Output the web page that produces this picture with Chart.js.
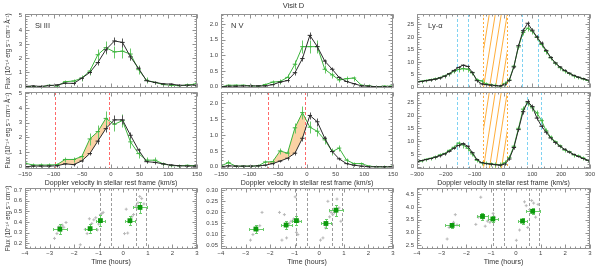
<!DOCTYPE html>
<html>
<head>
<meta charset="utf-8">
<script src="https://cdn.jsdelivr.net/npm/chart.js@4.4.0/dist/chart.umd.min.js"></script>
<style>
html,body{margin:0;padding:0;background:#ffffff;}
#fig{position:relative;width:598px;height:267px;overflow:hidden;background:#fff;}
#fig canvas{position:absolute;}
</style>
</head>
<body>
<div id="fig"></div>
<script>
// ---------- data ----------
const siVel = [-150,-136,-122,-108,-94,-80,-65,-51,-37,-23,-9,6,20,34,48,62,77,91,105,119,133,147];
const siBlackA    = [0.02,0.05,0.02,0.08,0.12,0.25,0.23,0.6,1.0,1.7,2.6,3.22,3.12,2.1,1.3,0.42,0.3,0.2,0.18,0.1,0.1,0.12];
const siBlackAErr = [0.08,0.08,0.08,0.08,0.08,0.08,0.08,0.1,0.12,0.2,0.25,0.3,0.3,0.22,0.15,0.1,0.08,0.08,0.08,0.08,0.08,0.08];
const siGreenA    = [0.0,0.02,-0.03,0.1,0.05,0.35,0.4,0.6,1.1,2.25,2.75,2.45,2.5,2.3,1.2,0.45,0.3,0.15,0.1,0.07,0.12,0.18];
const siGreenAErr = [0.12,0.12,0.12,0.12,0.12,0.15,0.15,0.2,0.25,0.4,0.45,0.45,0.45,0.4,0.3,0.2,0.12,0.12,0.12,0.12,0.12,0.12];
const siBlackB    = [0.0,0.05,0.05,0.05,0.07,0.2,0.15,0.4,0.9,1.75,2.6,3.2,3.2,2.15,1.15,0.35,0.3,0.2,0.12,0.07,0.05,0.05];
const siBlackBErr = [0.08,0.08,0.08,0.08,0.08,0.08,0.08,0.1,0.12,0.2,0.25,0.3,0.3,0.22,0.15,0.1,0.08,0.08,0.08,0.08,0.08,0.08];
const siGreenB    = [0.25,0.12,0.12,0.12,0.15,0.5,0.5,0.7,1.9,2.4,3.3,2.9,3.15,1.7,0.9,0.45,0.45,0.2,0.08,0.07,0.1,0.07];
const siGreenBErr = [0.15,0.12,0.12,0.12,0.12,0.15,0.15,0.2,0.4,0.45,0.5,0.45,0.45,0.4,0.3,0.2,0.2,0.12,0.12,0.12,0.12,0.12];

const nvVel = [-150,-137,-124,-111,-98,-85,-73,-60,-47,-34,-21,-8,5,18,31,44,56,69,82,95,108,121,134,147];
const nvBlackA    = [0.0,0.02,0.02,0.03,0.03,0.03,0.03,0.07,0.15,0.2,0.45,0.9,1.64,1.28,0.82,0.56,0.3,0.17,0.1,0.03,0.02,0.0,0.0,0.0];
const nvBlackAErr = [0.03,0.03,0.03,0.03,0.03,0.03,0.03,0.03,0.04,0.05,0.06,0.08,0.12,0.12,0.08,0.06,0.05,0.04,0.03,0.03,0.03,0.03,0.03,0.03];
const nvGreenA    = [0.0,0.05,0.05,0.05,0.03,0.02,0.07,0.15,0.17,0.3,0.72,1.28,1.28,1.28,0.56,0.38,0.22,0.26,0.28,0.05,0.03,0.0,0.02,0.02];
const nvGreenAErr = [0.05,0.05,0.05,0.05,0.05,0.05,0.06,0.07,0.08,0.1,0.14,0.2,0.2,0.2,0.12,0.1,0.08,0.08,0.08,0.05,0.05,0.05,0.05,0.05];
const nvBlackB    = [0.0,0.03,0.02,0.02,0.02,0.03,0.05,0.1,0.18,0.27,0.43,0.9,1.62,1.42,0.9,0.48,0.25,0.1,0.05,0.02,0.0,0.0,0.0,0.0];
const nvBlackBErr = [0.03,0.03,0.03,0.03,0.03,0.03,0.03,0.03,0.04,0.05,0.06,0.08,0.12,0.12,0.08,0.06,0.05,0.04,0.03,0.03,0.03,0.03,0.03,0.03];
const nvGreenB    = [0.03,0.13,0.02,0.02,0.02,0.03,0.15,0.16,0.5,0.43,1.23,1.71,1.25,1.12,0.85,0.48,0.59,0.21,0.1,0.1,0.02,0.0,0.0,0.0];
const nvGreenBErr = [0.05,0.07,0.05,0.05,0.05,0.05,0.06,0.07,0.1,0.1,0.15,0.2,0.18,0.15,0.12,0.1,0.1,0.08,0.06,0.05,0.05,0.05,0.05,0.05];

const lyVel = [-300,-284,-268,-252,-236,-220,-204,-188,-172,-156,-140,-124,-108,-92,-76,-60,-44,-28,-12,4,20,36,52,68,84,100,116,132,148,164,180,196,212,228,244,260,276,292];
const lyBlackA    = [1.9,2.2,2.5,2.8,3.1,3.6,4.3,5.3,6.6,7.8,8.7,8.2,5.8,2.5,1.2,0.9,0.7,0.5,0.4,0.9,2.6,8.0,16.5,22.5,25.5,22.7,20.0,17.5,14.6,11.8,9.6,8.0,6.6,5.5,4.6,3.9,3.3,2.8];
const lyBlackAErr = [0.3,0.3,0.3,0.3,0.3,0.35,0.35,0.4,0.45,0.5,0.6,0.6,0.5,0.35,0.3,0.3,0.3,0.3,0.3,0.3,0.35,0.5,0.7,0.9,1.0,0.9,0.8,0.7,0.6,0.5,0.45,0.4,0.4,0.35,0.35,0.3,0.3,0.3];
const lyGreenA    = [1.9,2.3,2.6,2.9,3.2,3.7,4.4,5.2,6.2,7.0,7.3,7.1,5.6,2.8,2.4,1.2,0.8,0.6,0.1,1.4,2.8,8.3,16.0,21.8,23.5,22.3,19.8,17.0,14.2,11.6,9.5,7.7,6.4,5.4,4.4,3.8,3.2,2.6];
const lyGreenAErr = [0.6,0.6,0.6,0.6,0.6,0.6,0.7,0.7,0.8,0.9,1.0,1.0,0.9,0.8,0.8,0.8,0.8,0.9,1.0,1.0,0.9,0.9,1.0,1.2,1.3,1.2,1.1,1.0,1.0,0.9,0.8,0.8,0.7,0.7,0.7,0.6,0.6,0.6];
const lyBlackB    = [2.0,2.4,2.8,3.2,3.7,4.3,5.0,6.0,7.2,8.3,9.0,8.0,5.5,2.8,1.6,1.2,1.0,0.8,0.6,1.0,3.0,7.5,14.5,21.5,25.5,23.5,19.0,15.8,13.5,11.2,9.5,8.0,6.8,5.7,4.8,4.0,3.2,2.5];
const lyBlackBErr = [0.3,0.3,0.3,0.3,0.3,0.35,0.35,0.4,0.45,0.5,0.6,0.6,0.5,0.35,0.3,0.3,0.3,0.3,0.3,0.3,0.35,0.5,0.7,0.9,1.0,0.9,0.8,0.7,0.6,0.5,0.45,0.4,0.4,0.35,0.35,0.3,0.3,0.3];
const lyGreenB    = [2.0,2.3,2.9,3.3,3.8,4.6,5.2,6.4,7.6,9.2,8.5,7.2,5.0,2.5,1.5,1.3,1.1,0.9,0.7,1.5,3.5,8.0,15.0,22.5,25.0,23.0,21.0,18.0,14.0,11.5,9.8,8.2,6.5,5.9,4.6,4.2,3.4,2.6];
const lyGreenBErr = [0.6,0.6,0.6,0.6,0.6,0.6,0.7,0.7,0.8,0.9,1.0,1.0,0.9,0.8,0.8,0.8,0.8,0.9,1.0,1.0,0.9,0.9,1.0,1.2,1.3,1.2,1.1,1.0,1.0,0.9,0.8,0.8,0.7,0.7,0.7,0.6,0.6,0.6];

const timeBin    = [-2.58,-1.35,-0.93,0.27,0.68];
const timeBinErr = [0.28,0.22,0.2,0.2,0.28];
const siTimeFlux = [0.333,0.337,0.413,0.412,0.537];
const siTimeErr  = [0.045,0.04,0.05,0.04,0.055];
const nvTimeFlux = [0.125,0.143,0.163,0.15,0.21];
const nvTimeErr  = [0.018,0.02,0.02,0.02,0.025];
const lyTimeFlux = [3.28,3.63,3.53,3.45,3.83];
const lyTimeErr  = [0.1,0.13,0.13,0.12,0.12];

const siSubT = [-2.8,-2.7,-2.62,-2.55,-2.48,-2.42,-2.33,-1.75,-1.55,-1.47,-1.38,-1.28,-1.2,-1.12,-1.05,-1.0,-0.93,-0.87,-0.82,0.05,0.12,0.18,0.27,0.35,0.42,0.52,0.6,0.67,0.75,0.84];
const siSubF = [0.245,0.29,0.355,0.31,0.37,0.35,0.395,0.185,0.33,0.29,0.43,0.385,0.42,0.44,0.325,0.38,0.47,0.48,0.49,0.29,0.52,0.295,0.41,0.45,0.47,0.55,0.58,0.64,0.62,0.57];
const nvSubT = [-2.8,-2.7,-2.6,-2.5,-2.42,-2.33,-1.62,-1.52,-1.42,-1.33,-1.22,-1.15,-1.05,-0.98,-0.93,-0.87,-0.82,0.05,0.15,0.25,0.35,0.42,0.48,0.55,0.62,0.72,0.8,0.88];
const nvSubF = [0.075,0.1,0.13,0.12,0.14,0.2,0.2,0.075,0.19,0.085,0.15,0.16,0.17,0.27,0.11,0.1,0.16,0.075,0.085,0.13,0.25,0.18,0.2,0.19,0.2,0.26,0.22,0.16];
const lySubT = [-2.78,-2.7,-2.6,-2.52,-2.45,-2.38,-1.62,-1.52,-1.42,-1.32,-1.24,-1.15,-1.05,-0.98,-0.92,-0.86,0.02,0.15,0.25,0.35,0.42,0.48,0.56,0.64,0.72,0.8,0.9];
const lySubF = [2.75,3.2,3.25,3.4,3.7,3.3,3.32,3.6,4.38,3.55,3.25,3.45,3.4,3.5,3.75,3.6,2.7,3.1,3.45,4.2,4.05,3.2,3.9,4.25,4.15,3.6,4.1];

// tick labels
const siVelTicks = [-150,-100,-50,0,50,100,150];
const lyVelTicks = [-300,-200,-100,0,100,200,300];
const timeTicks  = [-4,-3,-2,-1,0,1,2,3];
const siFluxTicks = [0,1,2,3,4,5];
const nvFluxTicks = [0,0.5,1,1.5,2];
const lyFluxTicks = [0,5,10,15,20,25];
const siTimeTicks = [0.2,0.3,0.4,0.5,0.6,0.7];
const nvTimeTicks = [0.05,0.10,0.15,0.20,0.25,0.30];
const lyTimeTicks = [2.5,3.0,3.5,4.0,4.5];

// marker positions
const siShadeRange = [-98,-3];
const nvShadeRange = [-68,-3];
const lyHatchRange = [-70,12];
const lyCyanA = [-162,-122,65,119];
const lyCyanB = [-162,-122,80,130];
const timeMarks = [-0.93,-0.5,0.52,0.94];

// ---------- plugins ----------
const FONT = '"Liberation Sans", Arial, Helvetica, sans-serif';
const errPlugin = {
  id: 'errbars',
  beforeDatasetDraw(chart, args) {
    const ds = chart.data.datasets[args.index];
    if (!ds.yErr && !ds.xErr) return;
    const {ctx, chartArea: a, scales: {x, y}} = chart;
    const meta = args.meta;
    ctx.save();
    ctx.beginPath(); ctx.rect(a.left, a.top, a.right - a.left, a.bottom - a.top); ctx.clip();
    ctx.strokeStyle = ds.errColor; ctx.lineWidth = 1;
    ctx.beginPath();
    const cap = ds.cap || 0;
    ds.data.forEach((p, i) => {
      const el = meta.data[i];
      const px = Math.round(el.x) + 0.5, py = Math.round(el.y) + 0.5;
      if (ds.yErr) {
        const y1 = Math.round(y.getPixelForValue(p.y - ds.yErr[i])) + 0.5;
        const y2 = Math.round(y.getPixelForValue(p.y + ds.yErr[i])) + 0.5;
        ctx.moveTo(px, y1); ctx.lineTo(px, y2);
        if (cap) { ctx.moveTo(px - cap, y1); ctx.lineTo(px + cap, y1); ctx.moveTo(px - cap, y2); ctx.lineTo(px + cap, y2); }
      }
      if (ds.xErr) {
        const x1 = Math.round(x.getPixelForValue(p.x - ds.xErr[i])) + 0.5;
        const x2 = Math.round(x.getPixelForValue(p.x + ds.xErr[i])) + 0.5;
        ctx.moveTo(x1, py); ctx.lineTo(x2, py);
        if (cap) { ctx.moveTo(x1, py - cap); ctx.lineTo(x1, py + cap); ctx.moveTo(x2, py - cap); ctx.lineTo(x2, py + cap); }
      }
    });
    ctx.stroke();
    ctx.restore();
  }
};

const shadePlugin = {
  id: 'shade',
  beforeDatasetsDraw(chart, args, o) {
    if (!o || !o.range) return;
    const {ctx, chartArea: a, scales: {x}} = chart;
    const A = chart.getDatasetMeta(o.a).data, B = chart.getDatasetMeta(o.b).data;
    const x0 = x.getPixelForValue(o.range[0]), x1 = x.getPixelForValue(o.range[1]);
    ctx.save();
    ctx.beginPath(); ctx.rect(x0, a.top, x1 - x0, a.bottom - a.top); ctx.clip();
    ctx.beginPath();
    A.forEach((p, i) => i ? ctx.lineTo(p.x, p.y) : ctx.moveTo(p.x, p.y));
    for (let i = B.length - 1; i >= 0; i--) ctx.lineTo(B[i].x, B[i].y);
    ctx.closePath();
    ctx.fillStyle = o.color; ctx.fill();
    ctx.restore();
  }
};

const hatchPlugin = {
  id: 'hatch',
  beforeDatasetsDraw(chart, args, o) {
    if (!o || !o.range) return;
    const {ctx, chartArea: a, scales: {x}} = chart;
    const x0 = x.getPixelForValue(o.range[0]), x1 = x.getPixelForValue(o.range[1]);
    ctx.save();
    ctx.beginPath(); ctx.rect(x0, a.top, x1 - x0, a.bottom - a.top); ctx.clip();
    ctx.strokeStyle = o.color; ctx.lineWidth = 1;
    ctx.beginPath();
    const slant = 12, gap = 6;
    for (let s = x0 - slant; s < x1 + gap; s += gap) {
      ctx.moveTo(s, a.bottom); ctx.lineTo(s + slant, a.top);
    }
    ctx.stroke();
    ctx.restore();
    ctx.save();
    ctx.strokeStyle = o.color; ctx.lineWidth = 1; ctx.setLineDash([2, 2]);
    [x0, x1].forEach(px => { const q = Math.round(px) + 0.5; ctx.beginPath(); ctx.moveTo(q, a.top); ctx.lineTo(q, a.bottom); ctx.stroke(); });
    ctx.restore();
  }
};

const vlinePlugin = {
  id: 'vlines',
  beforeDatasetsDraw(chart, args, o) {
    if (!o || !o.sets) return;
    const {ctx, chartArea: a, scales: {x}} = chart;
    o.sets.forEach(s => {
      s.values.forEach(v => {
        ctx.save();
        ctx.strokeStyle = s.color; ctx.lineWidth = 1; ctx.setLineDash(s.dash);
        const px = Math.round(x.getPixelForValue(v)) + 0.5;
        ctx.beginPath(); ctx.moveTo(px, a.top); ctx.lineTo(px, a.bottom); ctx.stroke();
        ctx.restore();
      });
    });
  }
};

const framePlugin = {
  id: 'frame',
  afterDatasetsDraw(chart, args, o) {
    const {ctx, chartArea: a, scales: {x, y}} = chart;
    const l = Math.round(a.left) + 0.5, r = Math.round(a.right) - 0.5;
    const t = Math.round(a.top) + 0.5, b = Math.round(a.bottom) - 0.5;
    ctx.save();
    ctx.strokeStyle = '#929292'; ctx.lineWidth = 1;
    ctx.strokeRect(l, t, r - l, b - t);
    ctx.beginPath();
    const majX = x.ticks.map(tk => tk.value), majY = y.ticks.map(tk => tk.value);
    majX.forEach(v => { const p = Math.round(x.getPixelForValue(v)) + 0.5; ctx.moveTo(p, b); ctx.lineTo(p, b - 4); ctx.moveTo(p, t); ctx.lineTo(p, t + 4); });
    majY.forEach(v => { const p = Math.round(y.getPixelForValue(v)) + 0.5; ctx.moveTo(l, p); ctx.lineTo(l + 4, p); ctx.moveTo(r, p); ctx.lineTo(r - 4, p); });
    if (o.xMinor) {
      for (let v = Math.ceil(x.min / o.xMinor) * o.xMinor; v <= x.max + 1e-9; v += o.xMinor) {
        const p = Math.round(x.getPixelForValue(v)) + 0.5; ctx.moveTo(p, b); ctx.lineTo(p, b - 2); ctx.moveTo(p, t); ctx.lineTo(p, t + 2);
      }
    }
    if (o.yMinor) {
      for (let v = Math.ceil(y.min / o.yMinor) * o.yMinor; v <= y.max + 1e-9; v += o.yMinor) {
        const p = Math.round(y.getPixelForValue(v)) + 0.5; ctx.moveTo(l, p); ctx.lineTo(l + 2, p); ctx.moveTo(r, p); ctx.lineTo(r - 2, p);
      }
    }
    ctx.stroke();
    ctx.restore();
  }
};

const textPlugin = {
  id: 'texts',
  afterDraw(chart, args, o) {
    if (!o || !o.items) return;
    const ctx = chart.ctx;
    o.items.forEach(it => {
      ctx.save();
      ctx.font = it.size + 'px ' + FONT;
      ctx.fillStyle = '#333333';
      ctx.textAlign = it.align || 'left';
      ctx.textBaseline = 'middle';
      ctx.fillText(it.text, it.x - o.ox, it.y - o.oy);
      ctx.restore();
    });
  }
};

// ---------- layout ----------
Chart.defaults.font.family = FONT;
Chart.defaults.color = '#444';
const COLS = [{L: 25, W: 172}, {L: 221, W: 172}, {L: 417, W: 173}];
const ROWS = [{T: 14, H: 75, xh: 6, pt: 14}, {T: 92, H: 77, xh: 18, pt: 7}, {T: 188, H: 61, xh: 17, pt: 7}];
const PR = 8;
const fig = document.getElementById('fig');
const fluxTitle = 'Flux (10\u207B\u00B9\u2074 erg s\u207B\u00B9 cm\u207B\u00B2 \u00C5\u207B\u00B9)';
const fluxTitle2 = 'Flux (10\u207B\u00B9\u2074 erg s\u207B\u00B9 cm\u207B\u00B2)';
const velTitle = 'Doppler velocity in stellar rest frame (km/s)';

function fmt(d) { return v => (v < -1e-9 ? '\u2212' : '') + Math.abs(v).toFixed(d); }
function pts(xs, ys) { return xs.map((x, i) => ({x, y: ys[i]})); }

function makeChart(r, c, spec) {
  const col = COLS[c], row = ROWS[r];
  const yw = c === 0 ? 25 : 24;
  const PT = row.pt;
  const w = col.W + yw + PR, h = row.H + PT + row.xh;
  const ox = col.L - yw, oy = row.T - PT;
  const cv = document.createElement('canvas');
  cv.width = w; cv.height = h;
  cv.style.left = ox + 'px'; cv.style.top = oy + 'px';
  cv.style.width = w + 'px'; cv.style.height = h + 'px';
  fig.appendChild(cv);
  return new Chart(cv, {
    type: r === 2 ? 'scatter' : 'line',
    data: {datasets: spec.datasets},
    options: {
      responsive: false, animation: false, devicePixelRatio: 1,
      layout: {padding: {top: PT, right: PR, left: 0, bottom: 0}},
      events: [],
      plugins: {
        legend: {display: false}, tooltip: {enabled: false}, title: {display: false},
        frame: {xMinor: spec.xMinor, yMinor: spec.yMinor},
        shade: spec.shade || {}, hatch: spec.hatch || {}, vlines: {sets: spec.vlines || []},
        texts: {items: spec.texts || [], ox, oy}
      },
      scales: {
        x: {
          type: 'linear', min: spec.xr[0], max: spec.xr[1],
          afterBuildTicks: s => { s.ticks = spec.xt.map(v => ({value: v})); },
          afterFit: s => { s.height = row.xh; },
          grid: {display: false, drawTicks: false}, border: {display: false},
          ticks: {display: r > 0, padding: r === 1 ? 2 : 1, autoSkip: false, maxRotation: 0, minRotation: 0,
                  font: {size: 6}, color: '#444', callback: fmt(0)},
          title: {display: r > 0, text: r === 1 ? velTitle : 'Time (hours)', font: {size: 7}, color: '#333', padding: {top: 0, bottom: 0}}
        },
        y: {
          type: 'linear', min: spec.yr[0], max: spec.yr[1],
          afterBuildTicks: s => { s.ticks = spec.yt.map(v => ({value: v})); },
          afterFit: s => { s.width = yw; },
          grid: {display: false, drawTicks: false}, border: {display: false},
          ticks: {padding: 3, autoSkip: false, font: {size: 6}, color: '#444', callback: fmt(spec.yd)},
          title: {display: c === 0, text: r === 2 ? fluxTitle2 : fluxTitle, font: {size: 6.3}, color: '#333', padding: {top: 4, bottom: 0}}
        }
      }
    },
    plugins: [shadePlugin, hatchPlugin, vlinePlugin, errPlugin, framePlugin, textPlugin]
  });
}

const BLACK = '#2a2a2a', BLACK_ERR = '#555555', GREEN = '#3cb43c', GREEN_ERR = '#66c866';
function specSets(vel, bk, bkErr, gr, grErr) {
  const base = {borderWidth: 1, pointStyle: 'line', pointRadius: 2.2, pointBorderWidth: 1, fill: false, tension: 0};
  return [
    Object.assign({}, base, {data: pts(vel, bk), yErr: bkErr, errColor: BLACK_ERR, borderColor: BLACK, pointBorderColor: BLACK, pointBackgroundColor: BLACK}),
    Object.assign({}, base, {data: pts(vel, gr), yErr: grErr, errColor: GREEN_ERR, borderColor: GREEN, pointBorderColor: GREEN, pointBackgroundColor: GREEN})
  ];
}
function timeSets(flux, err, subT, subF) {
  return [
    {data: pts(timeBin, flux), xErr: timeBinErr, yErr: err, errColor: '#6acb6a', cap: 1.5,
     pointStyle: 'rect', pointRadius: 3.4, backgroundColor: '#0c9a0c', borderColor: '#0c9a0c', borderWidth: 0, showLine: false},
    {data: pts(subT, subF), pointStyle: 'cross', pointRadius: 1.5, borderColor: '#b8b8b8', backgroundColor: '#b8b8b8', borderWidth: 1, showLine: false}
  ];
}

const RED = {color: '#ff6a6a', dash: [3, 2]};
const CYAN = {color: '#7fd2f2', dash: [3, 2]};
const GREY = {color: '#9c9c9c', dash: [3, 2]};

// row 1
makeChart(0, 0, {datasets: specSets(siVel, siBlackA, siBlackAErr, siGreenA, siGreenAErr), xr: [-150, 150], xt: siVelTicks, xMinor: 10, yr: [-0.12, 5.12], yt: siFluxTicks, yMinor: 0.2, yd: 0,
  texts: [{text: 'Si III', x: 35, y: 26, size: 7.5}]});
makeChart(0, 1, {datasets: specSets(nvVel, nvBlackA, nvBlackAErr, nvGreenA, nvGreenAErr), xr: [-150, 150], xt: siVelTicks, xMinor: 10, yr: [-0.05, 2.32], yt: nvFluxTicks, yMinor: 0.1, yd: 1,
  texts: [{text: 'N V', x: 231, y: 26, size: 7.5}, {text: 'Visit D', x: 293.5, y: 5.5, size: 7.5, align: 'center'}]});
makeChart(0, 2, {datasets: specSets(lyVel, lyBlackA, lyBlackAErr, lyGreenA, lyGreenAErr), xr: [-300, 300], xt: lyVelTicks, xMinor: 20, yr: [-0.6, 29.2], yt: lyFluxTicks, yMinor: 1, yd: 0,
  hatch: {range: lyHatchRange, color: '#ffad3a'}, vlines: [Object.assign({values: lyCyanA}, CYAN)],
  texts: [{text: 'Ly-α', x: 428, y: 26, size: 7.5}]});
// row 2
makeChart(1, 0, {datasets: specSets(siVel, siBlackB, siBlackBErr, siGreenB, siGreenBErr), xr: [-150, 150], xt: siVelTicks, xMinor: 10, yr: [-0.15, 5.1], yt: siFluxTicks, yMinor: 0.2, yd: 0,
  shade: {a: 0, b: 1, range: siShadeRange, color: '#fbd2a4'}, vlines: [Object.assign({values: siShadeRange}, RED)]});
makeChart(1, 1, {datasets: specSets(nvVel, nvBlackB, nvBlackBErr, nvGreenB, nvGreenBErr), xr: [-150, 150], xt: siVelTicks, xMinor: 10, yr: [-0.07, 2.36], yt: nvFluxTicks, yMinor: 0.1, yd: 1,
  shade: {a: 0, b: 1, range: nvShadeRange, color: '#fbd2a4'}, vlines: [Object.assign({values: nvShadeRange}, RED)]});
makeChart(1, 2, {datasets: specSets(lyVel, lyBlackB, lyBlackBErr, lyGreenB, lyGreenBErr), xr: [-300, 300], xt: lyVelTicks, xMinor: 20, yr: [-0.9, 29.2], yt: lyFluxTicks, yMinor: 1, yd: 0,
  hatch: {range: lyHatchRange, color: '#ffad3a'}, vlines: [Object.assign({values: lyCyanB}, CYAN)]});
// row 3
makeChart(2, 0, {datasets: timeSets(siTimeFlux, siTimeErr, siSubT, siSubF), xr: [-4, 3], xt: timeTicks, xMinor: 0.2, yr: [0.145, 0.72], yt: siTimeTicks, yMinor: 0.02, yd: 1, vlines: [Object.assign({values: timeMarks}, GREY)]});
makeChart(2, 1, {datasets: timeSets(nvTimeFlux, nvTimeErr, nvSubT, nvSubF), xr: [-4, 3], xt: timeTicks, xMinor: 0.2, yr: [0.035, 0.31], yt: nvTimeTicks, yMinor: 0.01, yd: 2, vlines: [Object.assign({values: timeMarks}, GREY)]});
makeChart(2, 2, {datasets: timeSets(lyTimeFlux, lyTimeErr, lySubT, lySubF), xr: [-4, 3], xt: timeTicks, xMinor: 0.2, yr: [2.36, 4.74], yt: lyTimeTicks, yMinor: 0.1, yd: 1, vlines: [Object.assign({values: timeMarks}, GREY)]});
</script>
</body>
</html>
